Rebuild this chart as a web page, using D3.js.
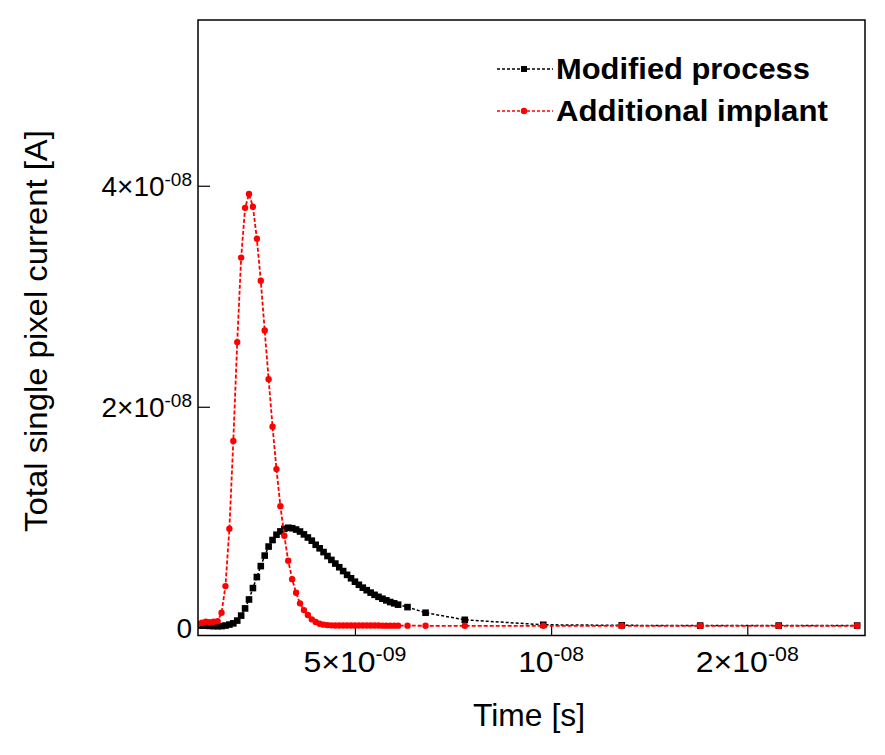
<!DOCTYPE html>
<html>
<head>
<meta charset="utf-8">
<script src="https://cdn.jsdelivr.net/npm/d3@7"></script>
<style>
  body { margin: 0; background: #fff; }
  text { font-family: "Liberation Sans", Arial, sans-serif; fill: #000; }
</style>
</head>
<body>
<svg id="chart" width="885" height="755"></svg>
<script>
"use strict"
/* Total single pixel current vs time, two process variants */

// Simulation time points [ns]
var timesNs = [1.0, 1.1, 1.2, 1.3, 1.4, 1.5, 1.6, 1.7, 1.8, 1.9,
               2.0, 2.1, 2.2, 2.3, 2.4, 2.5, 2.6, 2.7, 2.8, 2.9,
               3.0, 3.1, 3.2, 3.3, 3.4, 3.5, 3.6, 3.7, 3.8, 3.9,
               4.0, 4.1, 4.2, 4.3, 4.4, 4.5, 4.6, 4.7, 4.8, 4.9,
               5.0, 5.1, 5.2, 5.3, 5.4, 5.5, 5.6, 5.7, 5.8, 5.9,
               6.0, 6.1, 6.34, 6.8, 7.8, 9.8, 11.8, 13.8, 15.8, 17.8];

// "Modified process" current [nA]
var modifiedNa = [0.29, 0.24, 0.20, 0.17, 0.15, 0.15, 0.15, 0.20, 0.29, 0.40,
                  0.65, 1.10, 1.75, 2.56, 3.59, 4.59, 5.58, 6.53, 7.35, 7.94,
                  8.42, 8.72, 8.95, 9.05, 9.01, 8.89, 8.71, 8.45, 8.17, 7.88,
                  7.51, 7.19, 6.85, 6.49, 6.14, 5.81, 5.48, 5.13, 4.79, 4.48,
                  4.17, 3.89, 3.63, 3.40, 3.18, 2.98, 2.80, 2.63, 2.48, 2.33,
                  2.21, 2.09, 1.87, 1.36, 0.72, 0.27, 0.22, 0.20, 0.20, 0.20];

// "Additional implant" current [nA]
var implantNa = [0.35, 0.45, 0.55, 0.50, 0.55, 0.60, 1.36, 3.77, 8.96, 16.9,
                 25.85, 33.5, 38.0, 39.25, 38.1, 35.2, 31.4, 26.9, 22.5, 18.2,
                 14.36, 11.0, 8.33, 6.06, 4.40, 3.17, 2.21, 1.60, 1.15, 0.76,
                 0.52, 0.36, 0.28, 0.24, 0.22, 0.21, 0.21, 0.20, 0.20, 0.20,
                 0.20, 0.20, 0.20, 0.20, 0.20, 0.20, 0.20, 0.19, 0.19, 0.19,
                 0.19, 0.19, 0.19, 0.18, 0.18, 0.18, 0.18, 0.18, 0.18, 0.18];

var seriesNames = ["Modified process", "Additional implant"];

// Major ticks and the labels printed on them (mantissa part, exponent part)
var xTickValues = [5e-9, 1e-8, 1.5e-8],
    xTickMant   = ["5\u00d710", "10", "2\u00d710"],
    xTickExp    = ["-09", "-08", "-08"],
    yTickValues = [0, 2e-8, 4e-8],
    yTickMant   = ["0", "2\u00d710", "4\u00d710"],
    yTickExp    = ["", "-08", "-08"];

var svg = d3.select("svg#chart"),
    plot = {left: 198, top: 20, right: 865, bottom: 635.5};

var x = d3.scaleLinear().domain([1e-9, 1.8e-8]).range([plot.left, plot.right]),
    y = d3.scaleLinear().domain([-7e-10, 5.5e-8]).range([plot.bottom, plot.top]);

function toPoints(vals) {
  return timesNs.map(function(t, i) { return {t: t * 1e-9, v: vals[i] * 1e-9}; });
}
var series = [
  {name: seriesNames[0], color: "#000", shape: "square", pts: toPoints(modifiedNa)},
  {name: seriesNames[1], color: "#ff0000", shape: "circle", pts: toPoints(implantNa)}
];

// stretch a text node horizontally so it covers the wanted width
function fitWidth(node, width) {
  var w = node.getBBox().width;
  d3.select(node).attr("transform", "scale(" + (width / w) + ",1)");
}

// Axes: ticks point inward, only bottom and left
var gx = svg.append("g").attr("transform", "translate(0," + plot.bottom + ")");
gx.call(d3.axisBottom(x).tickValues(d3.range(1.5e-9, 1.79e-8, 5e-10))
    .tickSizeInner(-5).tickSizeOuter(0).tickFormat(""));
gx.call(d3.axisBottom(x).tickValues(xTickValues)
    .tickSizeInner(-10).tickSizeOuter(0).tickFormat(""));
var gy = svg.append("g").attr("transform", "translate(" + plot.left + ",0)");
gy.call(d3.axisLeft(y).tickValues(d3.range(2e-9, 5.45e-8, 2e-9))
    .tickSizeInner(-6).tickSizeOuter(0).tickFormat(""));
gy.call(d3.axisLeft(y).tickValues(yTickValues)
    .tickSizeInner(-12).tickSizeOuter(0).tickFormat(""));
svg.selectAll(".domain").remove();
svg.selectAll(".tick line").attr("stroke", "#000").attr("stroke-width", 1.2);

// Tick labels with superscript exponents
var xWidths = [103, 66, 103];
xTickValues.forEach(function(v, i) {
  var g = svg.append("g").attr("transform", "translate(" + x(v) + ",672)");
  var t = g.append("text").attr("text-anchor", "middle").style("font-size", "30px");
  t.append("tspan").text(xTickMant[i]);
  t.append("tspan").attr("dy", -11).style("font-size", "20px").text(xTickExp[i]);
  fitWidth(t.node(), xWidths[i]);
});
yTickValues.forEach(function(v, i) {
  var t = svg.append("text").attr("text-anchor", "end")
    .attr("x", 192).attr("y", y(v) + 10).style("font-size", "28px");
  t.append("tspan").text(yTickMant[i]);
  if (yTickExp[i]) t.append("tspan").attr("dy", -10).style("font-size", "19px").text(yTickExp[i]);
});

// Axis titles
var xt = svg.append("g").attr("transform", "translate(529,726)")
  .append("text").attr("text-anchor", "middle").style("font-size", "31px").text("Time [s]");
fitWidth(xt.node(), 112);
var yt = svg.append("g").attr("transform", "translate(47,331) rotate(-90)")
  .append("text").attr("text-anchor", "middle").style("font-size", "31px")
  .text("Total single pixel current [A]");
fitWidth(yt.node(), 402);

// Data
svg.append("clipPath").attr("id", "clip").append("rect")
  .attr("x", plot.left).attr("y", plot.top)
  .attr("width", plot.right - plot.left).attr("height", plot.bottom - plot.top);
var gData = svg.append("g").attr("clip-path", "url(#clip)");
var line = d3.line().x(function(d) { return x(d.t); }).y(function(d) { return y(d.v); });

series.forEach(function(s) {
  var g = gData.append("g");
  g.append("path").datum(s.pts).attr("d", line)
    .attr("fill", "none").attr("stroke", s.color)
    .attr("stroke-width", s.shape === "circle" ? 1.8 : 1.5)
    .attr("stroke-dasharray", s.shape === "circle" ? "4,2" : "3,2");
  if (s.shape === "square") {
    g.selectAll("rect").data(s.pts).enter().append("rect")
      .attr("x", function(d) { return x(d.t) - 3.3; })
      .attr("y", function(d) { return y(d.v) - 3.3; })
      .attr("width", 6.6).attr("height", 6.6).attr("fill", s.color);
  } else {
    g.selectAll("circle").data(s.pts).enter().append("circle")
      .attr("cx", function(d) { return x(d.t); })
      .attr("cy", function(d) { return y(d.v); })
      .attr("r", 3.2).attr("fill", s.color);
  }
});

// Frame
svg.append("rect")
  .attr("x", plot.left).attr("y", plot.top)
  .attr("width", plot.right - plot.left).attr("height", plot.bottom - plot.top)
  .attr("fill", "none").attr("stroke", "#000").attr("stroke-width", 1.5);

// Legend
var legend = svg.append("g");
series.forEach(function(s, i) {
  var ly = 69 + i * 42;
  legend.append("line").attr("x1", 497).attr("x2", 553).attr("y1", ly).attr("y2", ly)
    .attr("stroke", s.color).attr("stroke-width", 1.6).attr("stroke-dasharray", "3,2");
  if (s.shape === "square") {
    legend.append("rect").attr("x", 521).attr("y", ly - 3).attr("width", 6).attr("height", 6).attr("fill", s.color);
  } else {
    legend.append("circle").attr("cx", 524).attr("cy", ly).attr("r", 3.2).attr("fill", s.color);
  }
  var g = legend.append("g").attr("transform", "translate(556," + (ly + 10) + ")");
  var t = g.append("text").style("font-size", "30px").style("font-weight", "bold").text(s.name);
  fitWidth(t.node(), i === 0 ? 254 : 272);
});
</script>
</body>
</html>
